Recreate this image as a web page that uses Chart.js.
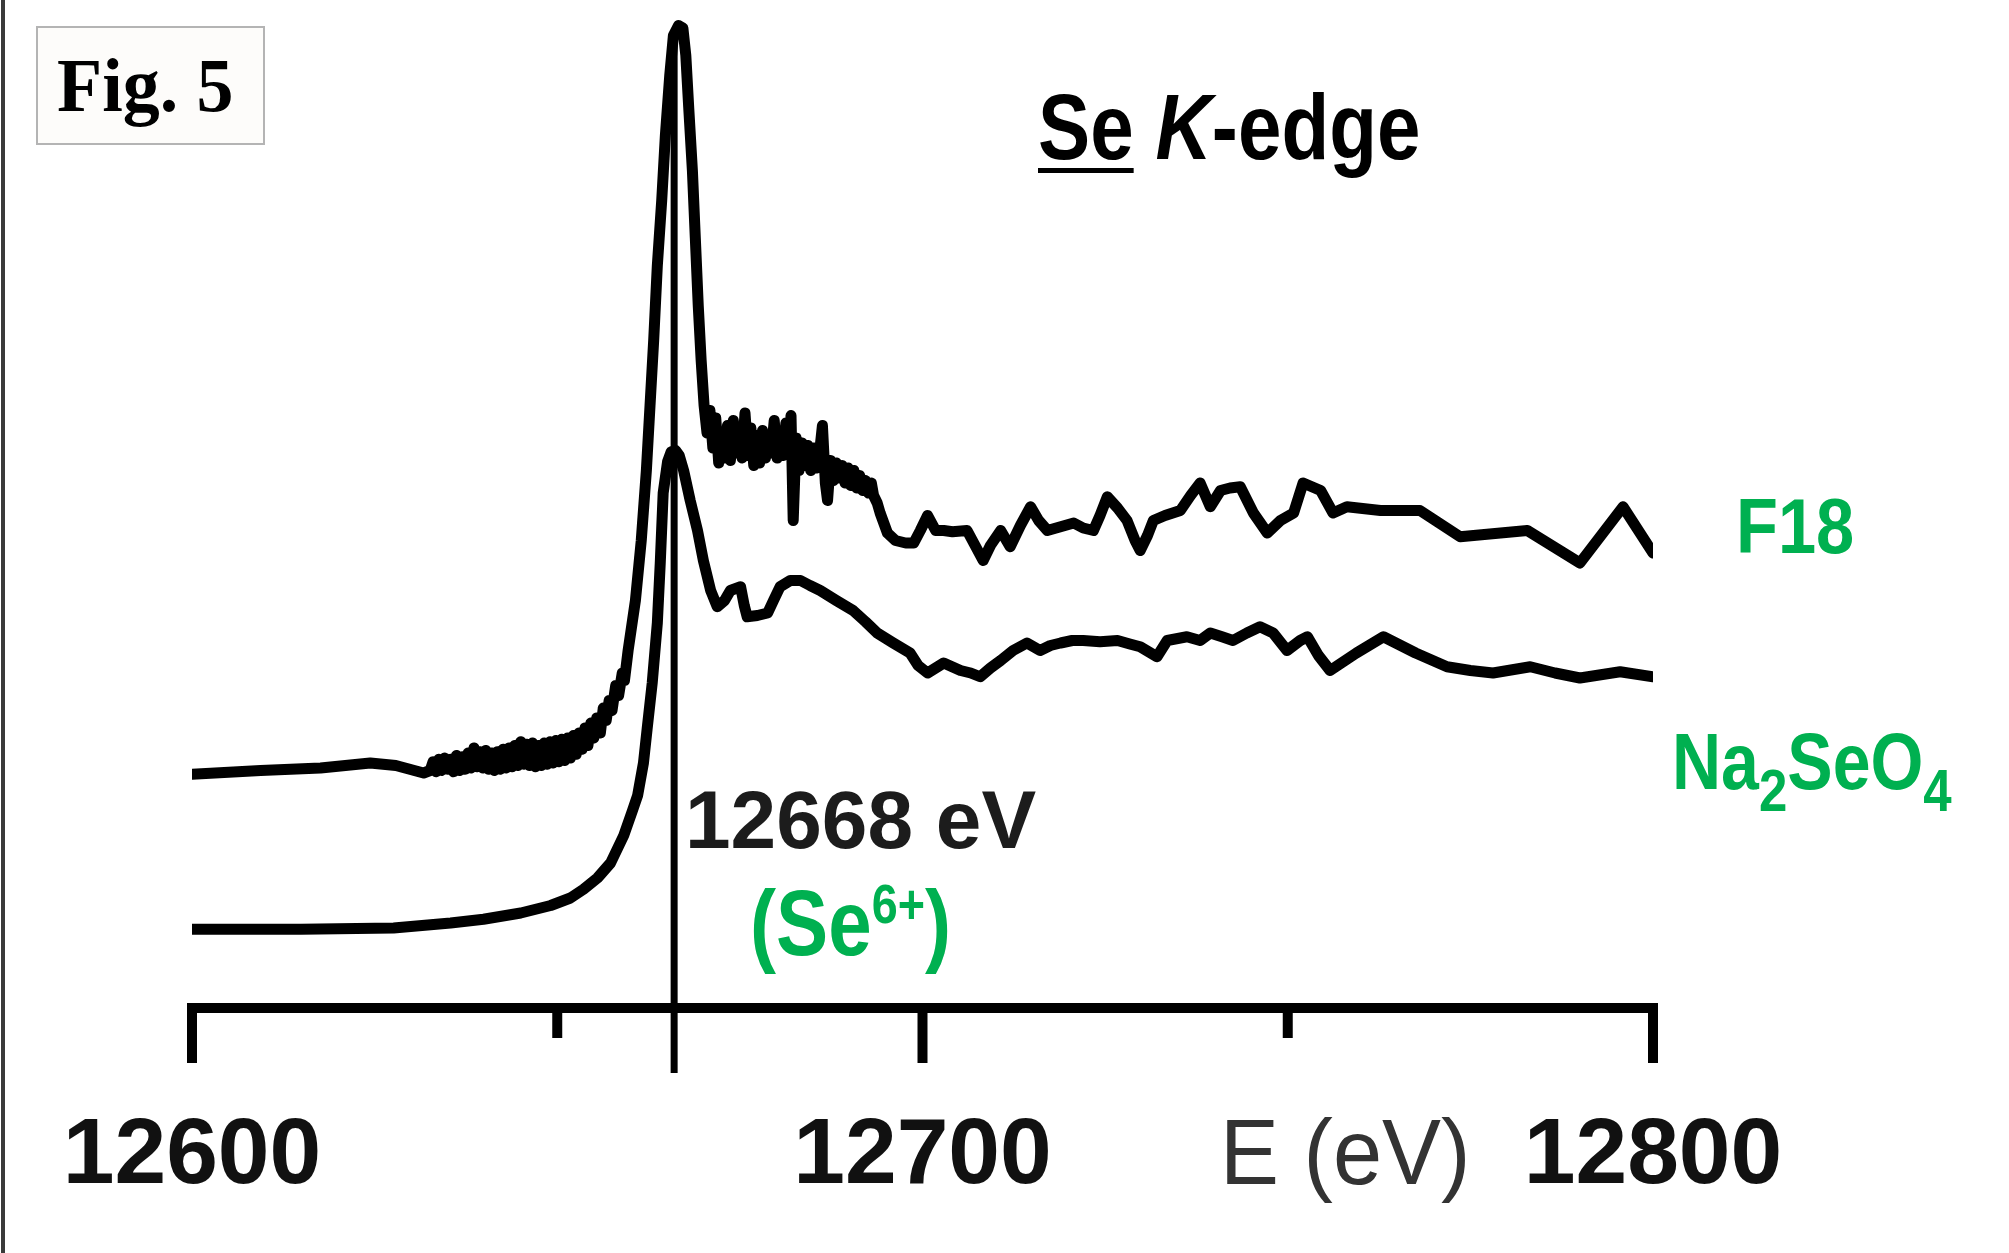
<!DOCTYPE html>
<html>
<head>
<meta charset="utf-8">
<script src="https://cdn.jsdelivr.net/npm/chart.js@4.4.1/dist/chart.umd.min.js"></script>
<style>
  html, body { margin: 0; padding: 0; background: #fff; overflow: hidden; }
  #wrap { position: relative; width: 2009px; height: 1253px; }
  #c { position: absolute; left: 0; top: 0; }
  .t { position: absolute; white-space: nowrap; line-height: 1; font-family: 'Liberation Sans', Arial, sans-serif; font-weight: bold; transform-origin: 0 0; }
  .green { color: #00b050; }
  #leftBorder { position: absolute; left: 1px; top: 0; width: 4px; height: 1253px; background: #3a3a3a; }
  #figBox { position: absolute; left: 36px; top: 26px; width: 225px; height: 115px; border: 2px solid #b4b4b4; background: #fdfcfa; }
  #figText { font-family: 'Liberation Serif', 'Times New Roman', serif; font-size: 77px; left: 57px; top: 47px; color: #000; transform: scaleX(0.96); }
  #title { font-size: 92px; left: 1038px; top: 81px; color: #000; transform: scaleX(0.85); }
  #title u { text-decoration-thickness: 5px; text-underline-offset: 9px; }
  #edgeLbl { font-size: 82px; left: 685px; top: 779px; color: #1c1c1c; }
  #ox { font-size: 92px; left: 750px; top: 877px; transform: scaleX(0.85); }
  #ox sup { font-size: 55px; vertical-align: 32px; line-height: 0; }
  #f18 { font-size: 78px; left: 1736px; top: 487px; transform: scaleX(0.88); }
  #na { font-size: 80px; left: 1672px; top: 722px; transform: scaleX(0.85); }
  #na sub { font-size: 60px; vertical-align: -22px; line-height: 0; }
  #xTitle { font-size: 93px; font-weight: normal; left: 1220px; top: 1106px; color: #333; transform: scaleX(0.95); }
</style>
</head>
<body>
<div id="wrap">
  <canvas id="c" width="2009" height="1253"></canvas>
  <div id="leftBorder"></div>
  <div id="figBox"></div>
  <div class="t" id="figText">Fig. 5</div>
  <div class="t" id="title"><u>Se</u> <i>K</i>-edge</div>
  <div class="t" id="edgeLbl">12668 eV</div>
  <div class="t green" id="ox">(Se<sup>6+</sup>)</div>
  <div class="t green" id="f18">F18</div>
  <div class="t green" id="na">Na<sub>2</sub>SeO<sub>4</sub></div>
  <div class="t" id="xTitle">E (eV)</div>
</div>
<script>
// ---- data ----
const xMin = 12600;
const xMax = 12800;
const majorTicks = [12600, 12700, 12800];
const minorTicks = [12650, 12750];
const edgeEnergy = 12666;          // position of the vertical marker line
const edgeLineTop = 7.8;
const edgeLineBottom = -0.52;

const f18Energy = [
  12600.0, 12609.4, 12617.6, 12624.4, 12627.9, 12631.7,
  12632.6, 12633.0, 12633.4, 12633.8, 12634.2, 12634.6, 12635.0, 12635.4, 12635.8, 12636.2,
  12636.6, 12637.0, 12637.4, 12637.8, 12638.2, 12638.6, 12639.0, 12639.4, 12639.8, 12640.2,
  12640.6, 12641.0, 12641.4, 12641.8, 12642.2, 12642.6, 12643.0, 12643.4, 12643.8, 12644.2,
  12644.6, 12645.0, 12645.4, 12645.8, 12646.2, 12646.6, 12647.0, 12647.4, 12647.8, 12648.2,
  12648.6, 12649.0, 12649.4, 12649.8, 12650.2, 12650.6, 12651.0, 12651.4, 12651.8, 12652.2,
  12652.6, 12653.0, 12653.4, 12653.8, 12654.2, 12654.6, 12655.0, 12655.4, 12655.9, 12656.3,
  12656.7, 12657.1, 12657.5, 12658.0, 12658.4, 12658.9, 12659.2, 12659.7,
  12660.7, 12661.5, 12662.2, 12662.7, 12663.2, 12663.7, 12664.3, 12664.8, 12665.4, 12665.9,
  12666.6, 12667.2, 12667.6, 12668.0, 12668.5, 12668.9, 12669.3, 12669.7,
  12670.1, 12670.5, 12670.9, 12671.3, 12671.7, 12672.1, 12672.5, 12672.9, 12673.3, 12673.7,
  12674.1, 12674.5, 12674.9, 12675.3, 12675.7, 12676.1, 12676.5, 12676.9, 12677.3, 12677.7,
  12678.1, 12678.5, 12678.9, 12679.3, 12679.7, 12680.1, 12680.5, 12680.9, 12681.3, 12681.7,
  12682.0, 12682.3, 12682.7, 12683.1, 12683.5, 12683.9, 12684.3, 12684.7, 12685.1, 12685.5,
  12685.9, 12686.3, 12686.7, 12687.0, 12687.4, 12687.8, 12688.2, 12688.6, 12689.0, 12689.4,
  12689.8, 12690.2, 12690.6, 12691.0, 12691.4, 12691.8, 12692.2, 12692.6, 12693.0, 12693.3,
  12693.8, 12694.2,
  12695.2, 12696.3, 12697.7, 12698.8, 12699.7, 12700.7, 12701.8, 12702.9, 12704.1, 12706.1,
  12707.2, 12708.3, 12709.3, 12710.7, 12712.0, 12713.4, 12714.8, 12715.9, 12717.1, 12718.9,
  12720.7, 12722.0, 12723.4, 12724.3, 12725.3, 12726.7, 12728.0, 12729.1, 12729.8, 12730.8,
  12731.6, 12733.2, 12735.3, 12736.7, 12738.0, 12739.4, 12740.8, 12742.1, 12743.5, 12745.3,
  12747.2, 12749.0, 12750.8, 12752.1, 12754.5, 12756.2, 12758.1, 12762.7, 12768.1, 12773.6,
  12782.8, 12790.0, 12795.9, 12800.0
];
const f18Absorbance = [
  1.87, 1.90, 1.92, 1.96, 1.94, 1.88,
  1.90, 1.97, 1.89, 1.99, 1.90, 2.00, 1.91, 1.99, 1.89, 2.02,
  1.90, 2.01, 1.91, 2.04, 1.92, 2.08, 1.93, 2.05, 1.92, 2.06,
  1.91, 2.04, 1.90, 2.05, 1.91, 2.07, 1.92, 2.08, 1.93, 2.10,
  1.94, 2.13, 1.95, 2.11, 1.94, 2.12, 1.93, 2.10, 1.94, 2.12,
  1.95, 2.13, 1.96, 2.14, 1.97, 2.15, 1.98, 2.16, 2.00, 2.18,
  2.03, 2.20, 2.07, 2.24, 2.10, 2.28, 2.16, 2.32, 2.20, 2.40,
  2.30, 2.46, 2.38, 2.58, 2.50, 2.68, 2.62, 2.86,
  3.26, 3.74, 4.30, 4.82, 5.34, 5.94, 6.46, 6.98, 7.46, 7.78,
  7.86, 7.84, 7.62, 7.20, 6.70, 6.16, 5.62, 5.18,
  4.82, 4.60, 4.78, 4.48, 4.72, 4.36, 4.60, 4.40, 4.66, 4.38,
  4.70, 4.44, 4.62, 4.40, 4.76, 4.42, 4.64, 4.34, 4.58, 4.36,
  4.62, 4.40, 4.56, 4.44, 4.70, 4.40, 4.60, 4.42, 4.68, 4.46,
  4.74, 3.90, 4.56, 4.30, 4.52, 4.34, 4.50, 4.30, 4.48, 4.32,
  4.44, 4.66, 4.20, 4.06, 4.38, 4.22, 4.36, 4.24, 4.34, 4.20,
  4.32, 4.18, 4.30, 4.16, 4.26, 4.14, 4.22, 4.12, 4.20, 4.10,
  4.04, 3.96,
  3.80, 3.74, 3.72, 3.72, 3.82, 3.94, 3.82, 3.82, 3.81, 3.82,
  3.70, 3.58, 3.70, 3.82, 3.69, 3.86, 4.01, 3.90, 3.82, 3.85,
  3.88, 3.84, 3.82, 3.94, 4.09, 4.00, 3.90, 3.74, 3.66, 3.78,
  3.90, 3.94, 3.98, 4.10, 4.20, 4.01, 4.14, 4.16, 4.17, 3.96,
  3.80, 3.90, 3.96, 4.20, 4.14, 3.96, 4.01, 3.98, 3.98, 3.77,
  3.82, 3.56, 4.01, 3.64
];

const naEnergy = [
  12600.0, 12614.9, 12627.6, 12635.4, 12639.9, 12645.0, 12649.1, 12651.8, 12653.6, 12655.5,
  12657.3, 12659.1, 12660.3, 12661.0, 12661.8, 12662.3, 12663.0, 12663.7, 12664.1, 12664.5,
  12665.1, 12665.6, 12666.2, 12666.7, 12667.3, 12668.2, 12669.2, 12670.0, 12671.0, 12671.9,
  12672.9, 12673.7, 12675.1, 12675.6, 12676.0, 12677.4, 12678.8, 12679.6, 12680.5, 12681.9,
  12683.3, 12684.6, 12686.0, 12688.2, 12690.5, 12692.2, 12693.8, 12696.0, 12698.3, 12699.4,
  12700.7, 12702.9, 12705.2, 12706.6, 12707.9, 12709.3, 12710.7, 12712.4, 12714.3, 12716.1,
  12717.5, 12718.9, 12720.5, 12722.0, 12724.3, 12726.7, 12728.5, 12729.8, 12732.1, 12733.5,
  12736.2, 12738.0, 12739.4, 12741.0, 12742.5, 12744.4, 12746.2, 12748.0, 12749.9, 12751.7,
  12752.7, 12754.2, 12755.8, 12759.4, 12763.1, 12767.5, 12771.8, 12775.0, 12778.1, 12783.2,
  12786.6, 12790.0, 12795.5, 12800.0
];
const naAbsorbance = [
  0.63, 0.63, 0.64, 0.68, 0.71, 0.76, 0.82, 0.88, 0.95, 1.04,
  1.16, 1.38, 1.58, 1.70, 1.96, 2.23, 2.60, 3.08, 3.56, 4.12,
  4.37, 4.45, 4.46, 4.42, 4.30, 4.06, 3.82, 3.58, 3.34, 3.21,
  3.26, 3.34, 3.37, 3.22, 3.13, 3.14, 3.16, 3.26, 3.37, 3.42,
  3.42, 3.38, 3.34, 3.26, 3.18, 3.09, 3.00, 2.92, 2.84, 2.74,
  2.68, 2.76, 2.70, 2.68, 2.65, 2.72, 2.78, 2.86, 2.92, 2.86,
  2.90, 2.92, 2.94, 2.94, 2.93, 2.94, 2.91, 2.89, 2.81, 2.94,
  2.97, 2.94, 3.00, 2.97, 2.94, 3.00, 3.05, 3.00, 2.86, 2.94,
  2.97, 2.82, 2.70, 2.84, 2.97, 2.84, 2.73, 2.70, 2.68, 2.73,
  2.68, 2.64, 2.69, 2.65
];

// ---- chart ----
const toPoints = (xs, ys) => xs.map((x, i) => ({ x: x, y: ys[i] }));

const axisPlugin = {
  id: 'bracketAxis',
  afterDatasetsDraw(chart) {
    const { ctx, chartArea } = chart;
    const x = chart.scales.x;
    const y0 = chartArea.bottom;
    ctx.save();
    ctx.strokeStyle = '#000';
    ctx.lineWidth = 10;
    ctx.lineCap = 'butt';
    const xl = x.getPixelForValue(xMin), xr = x.getPixelForValue(xMax);
    ctx.beginPath();
    ctx.moveTo(xl - 5, y0);
    ctx.lineTo(xr + 5, y0);
    ctx.stroke();
    majorTicks.forEach(v => {
      const px = x.getPixelForValue(v);
      ctx.beginPath(); ctx.moveTo(px, y0 - 5); ctx.lineTo(px, y0 + 55); ctx.stroke();
    });
    minorTicks.forEach(v => {
      const px = x.getPixelForValue(v);
      ctx.beginPath(); ctx.moveTo(px, y0 - 5); ctx.lineTo(px, y0 + 30); ctx.stroke();
    });
    ctx.restore();
  }
};

new Chart(document.getElementById('c'), {
  type: 'line',
  data: {
    datasets: [
      {
        label: 'F18',
        data: toPoints(f18Energy, f18Absorbance),
        borderColor: '#000', borderWidth: 11, pointRadius: 0, tension: 0,
        borderJoinStyle: 'round', borderCapStyle: 'round', fill: false
      },
      {
        label: 'Na2SeO4',
        data: toPoints(naEnergy, naAbsorbance),
        borderColor: '#000', borderWidth: 11, pointRadius: 0, tension: 0,
        borderJoinStyle: 'round', borderCapStyle: 'round', fill: false
      },
      {
        label: 'E0 marker',
        data: [{ x: edgeEnergy, y: edgeLineTop }, { x: edgeEnergy, y: edgeLineBottom }],
        borderColor: '#000', borderWidth: 7, pointRadius: 0, tension: 0,
        borderCapStyle: 'butt', fill: false, clip: false
      }
    ]
  },
  options: {
    responsive: false,
    animation: false,
    devicePixelRatio: 1,
    events: [],
    layout: { padding: { left: 192, right: 356, top: 8, bottom: 0 } },
    plugins: { legend: { display: false }, tooltip: { enabled: false } },
    scales: {
      x: {
        type: 'linear',
        min: xMin, max: xMax,
        grid: { display: false, drawTicks: false },
        border: { display: false },
        afterFit(scale) { scale.height = 245; scale.paddingLeft = 0; scale.paddingRight = 0; },
        afterBuildTicks(scale) { scale.ticks = majorTicks.map(v => ({ value: v })); },
        ticks: {
          padding: 94,
          color: '#111',
          maxRotation: 0,
          autoSkip: false,
          font: { family: "'Liberation Sans', Arial, sans-serif", size: 93, weight: 'bold' },
          callback: v => String(v)
        }
      },
      y: {
        display: false,
        min: 0, max: 8
      }
    }
  },
  plugins: [axisPlugin]
});
</script>
</body>
</html>
